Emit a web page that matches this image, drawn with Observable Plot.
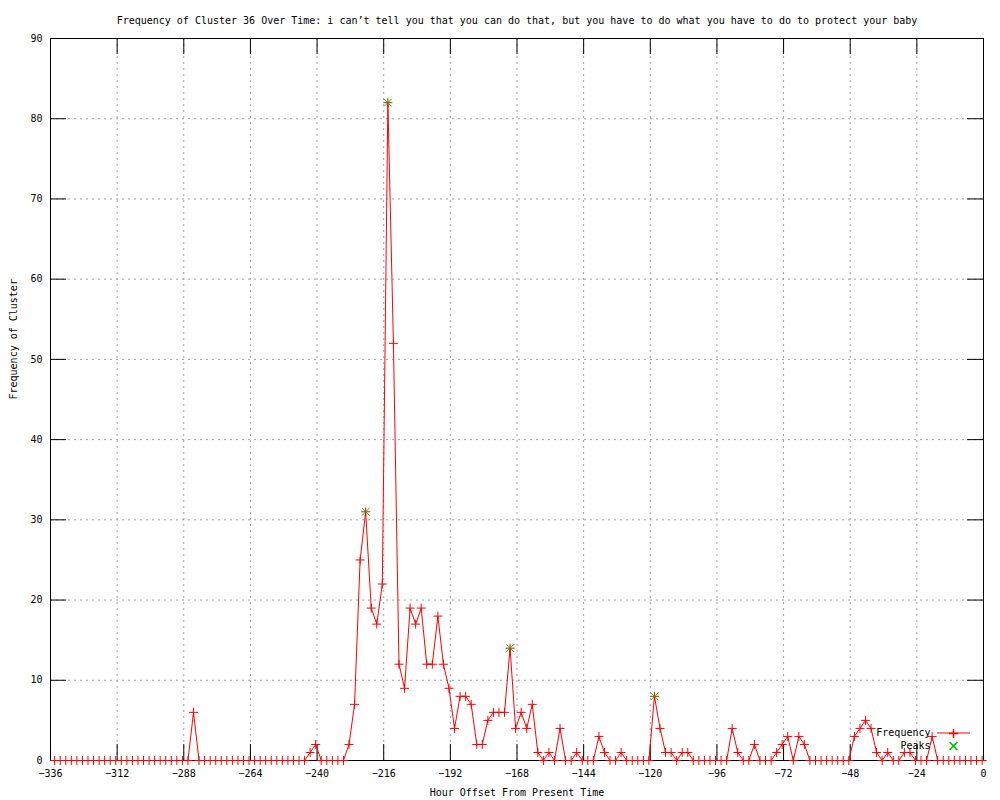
<!DOCTYPE html>
<html><head><meta charset="utf-8">
<script src="https://cdn.jsdelivr.net/npm/d3@7"></script>
<script src="https://cdn.jsdelivr.net/npm/@observablehq/plot@0.6"></script>
<style>html,body{margin:0;padding:0;background:#fff} svg{display:block}</style>
</head><body><div id="chart"></div>
<script>
const title = "Frequency of Cluster 36 Over Time: i can’t tell you that you can do that, but you have to do what you have to do to protect your baby";
const xLabel = "Hour Offset From Present Time";
const yLabel = "Frequency of Cluster";
const xTicks = [-336, -312, -288, -264, -240, -216, -192, -168, -144, -120, -96, -72, -48, -24, 0];
const yTicks = [0, 10, 20, 30, 40, 50, 60, 70, 80, 90];
const firstHour = -334.5;
const stepHours = 2;
const frequency = [
  0,0,0,0,0,0,0,0,0,0, 0,0,0,0,0,0,0,0,0,0, 0,0,0,0,0,6,0,0,0,0,
  0,0,0,0,0,0,0,0,0,0, 0,0,0,0,0,0,1,2,0,0, 0,0,0,2,7,25,31,19,17,22,
  82,52,12,9,19,17,19,12,12,18, 12,9,4,8,8,7,2,2,5,6, 6,6,14,4,6,4,7,1,0,1,
  0,4,0,0,1,0,0,0,3,1, 0,0,1,0,0,0,0,0,8,4, 1,1,0,1,1,0,0,0,0,0,
  0,0,4,1,0,0,2,0,0,0, 1,2,3,0,3,2,0,0,0,0, 0,0,0,0,3,4,5,4,1,0,
  1,0,0,1,1,0,0,0,3,0, 0,0,0,0,0,0,0,0
];
const peakHours = [-222.5, -214.5, -170.5, -118.5];
const peakValues = [31, 82, 14, 8];
const legendLabels = ["Frequency", "Peaks"];

const series = frequency.map((v, i) => ({hour: firstHour + i * stepHours, value: v}));
const peaks = peakHours.map((h, i) => ({hour: h, value: peakValues[i]}));

const W = 1000, H = 800, mL = 50, mR = 17, mT = 38, mB = 40;
const innerW = W - mL - mR, innerH = H - mT - mB, tickLen = 16;
const font = "'DejaVu Sans Mono', monospace";
const grid = {stroke: "#a0a0a0", strokeOpacity: 1, strokeDasharray: "2,4", strokeWidth: 1};

const plot = Plot.plot({
  width: W, height: H,
  marginLeft: mL, marginRight: mR, marginTop: mT, marginBottom: mB,
  style: {fontFamily: font, fontSize: "10px", background: "#fff", color: "#000"},
  x: {domain: [-336, 0]},
  y: {domain: [0, 90]},
  marks: [
    Plot.gridX(xTicks.slice(1, -1), grid),
    Plot.gridY(yTicks.slice(1, -1), grid),
    Plot.tickX(xTicks, {x: d => d, insetTop: innerH - tickLen, stroke: "#000"}),
    Plot.tickX(xTicks, {x: d => d, insetBottom: innerH - tickLen, stroke: "#000"}),
    Plot.tickY(yTicks, {y: d => d, insetRight: innerW - tickLen, stroke: "#000"}),
    Plot.tickY(yTicks, {y: d => d, insetLeft: innerW - tickLen, stroke: "#000"}),
    Plot.axisX(xTicks, {tickSize: 0, tickPadding: 9, label: null, fontSize: 10}),
    Plot.axisY(yTicks, {tickSize: 0, tickPadding: 8, label: null, fontSize: 10}),
    Plot.frame({stroke: "#000", strokeWidth: 1}),
    Plot.line(series, {x: "hour", y: "value", stroke: "#ff0000", strokeWidth: 1}),
    Plot.dot(series, {x: "hour", y: "value", symbol: "plus", r: 3, stroke: "#ff0000", strokeWidth: 1}),
    Plot.dot(peaks, {x: "hour", y: "value", symbol: "times", r: 3.6, stroke: "#00c000", strokeWidth: 1}),
    Plot.text([title], {frameAnchor: "top", dy: -22, fontSize: 10}),
    Plot.text([xLabel], {frameAnchor: "bottom", dy: 35, fontSize: 10}),
    Plot.text([yLabel], {frameAnchor: "left", dx: -37, rotate: -90, fontSize: 10}),
    Plot.text([legendLabels[0]], {frameAnchor: "bottom-right", dx: -53, dy: -25, textAnchor: "end", fontSize: 10}),
    Plot.text([legendLabels[1]], {frameAnchor: "bottom-right", dx: -53, dy: -12, textAnchor: "end", fontSize: 10}),
    Plot.dot([legendLabels[0]], {frameAnchor: "bottom-right", dx: -30, dy: -27, symbol: "plus", r: 3, stroke: "#ff0000"}),
    Plot.dot([legendLabels[1]], {frameAnchor: "bottom-right", dx: -30, dy: -14.5, symbol: "times", r: 3.6, stroke: "#00c000"})
  ]
});
document.getElementById("chart").appendChild(plot);
// legend line sample
d3.select(plot).append("line")
  .attr("x1", W - mR - 46).attr("x2", W - mR - 13)
  .attr("y1", H - mB - 27).attr("y2", H - mB - 27)
  .attr("stroke", "#ff0000").attr("stroke-width", 1);
</script>
</body></html>
